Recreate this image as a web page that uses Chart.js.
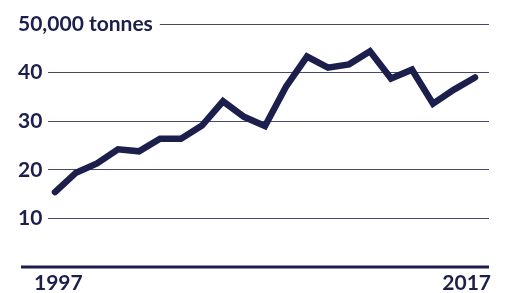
<!DOCTYPE html>
<html>
<head>
<meta charset="utf-8">
<script src="https://cdn.jsdelivr.net/npm/chart.js@4"></script>
<style>
  html, body { margin: 0; padding: 0; background: #fff; }
  #wrap { width: 505px; height: 293px; }
</style>
</head>
<body>
<div id="wrap"><canvas id="chart"></canvas></div>
<script>
// data
const years = [1997, 1998, 1999, 2000, 2001, 2002, 2003, 2004, 2005, 2006, 2007,
               2008, 2009, 2010, 2011, 2012, 2013, 2014, 2015, 2016, 2017];
const tonnes = [15.4, 19.4, 21.3, 24.2, 23.8, 26.4, 26.4, 29.1, 34.1, 30.9, 29.0,
                37.1, 43.3, 41.0, 41.7, 44.4, 38.8, 40.6, 33.6, 36.5, 39.0];
const yTicks = [0, 10, 20, 30, 40, 50];
const yTickLabels = ['', '10', '20', '30', '40', '50,000 tonnes'];
const yearLabels = ['1997', '2017'];

const navy = '#1c1e4b';
const gridCol = '#45486f';
const font = { family: 'Lato', size: 21, weight: 'bold' };

const extras = {
    id: 'extras',
    afterDraw(chart) {
        const ctx = chart.ctx;
        const area = chart.chartArea;
        const ys = chart.scales.y;
        ctx.save();
        ctx.font = 'bold 21px Lato';
        ctx.fillStyle = navy;
        // top tick label is wider than the axis, so it is drawn here
        const topLabel = yTickLabels[yTicks.length - 1];
        const w = ctx.measureText(topLabel).width;
        const yTop = ys.getPixelForValue(yTicks[yTicks.length - 1]);
        ctx.textAlign = 'left';
        ctx.textBaseline = 'middle';
        ctx.fillText(topLabel, ys.left, yTop);
        ctx.strokeStyle = gridCol;
        ctx.lineWidth = 1;
        ctx.beginPath();
        ctx.moveTo(ys.left + w + 7, Math.round(yTop) + 0.5);
        ctx.lineTo(area.right, Math.round(yTop) + 0.5);
        ctx.stroke();
        // baseline
        const y0 = ys.getPixelForValue(0);
        ctx.strokeStyle = navy;
        ctx.lineWidth = 3;
        ctx.beginPath();
        ctx.moveTo(ys.left + 3, y0);
        ctx.lineTo(area.right, y0);
        ctx.stroke();
        // first and last year
        ctx.textBaseline = 'alphabetic';
        ctx.textAlign = 'left';
        ctx.fillText(yearLabels[0], ys.left + 16, 290);
        ctx.textAlign = 'right';
        ctx.fillText(yearLabels[1], area.right + 2, 290);
        ctx.restore();
    }
};

new Chart(document.getElementById('chart'), {
    type: 'line',
    data: {
        datasets: [{
            data: years.map((yr, i) => ({ x: yr, y: tonnes[i] })),
            borderColor: navy,
            borderWidth: 6.5,
            borderJoinStyle: 'miter',
            borderCapStyle: 'round',
            pointRadius: 0,
            tension: 0
        }]
    },
    options: {
        responsive: true,
        maintainAspectRatio: false,
        animation: false,
        layout: { padding: { left: 18, right: 16, top: 24, bottom: 26 } },
        plugins: { legend: { display: false }, tooltip: { enabled: false } },
        scales: {
            x: {
                type: 'linear',
                display: false,
                min: 1997 - 7 / 21,
                max: 2017 + 14 / 21
            },
            y: {
                min: 0,
                max: 50,
                afterBuildTicks: (s) => { s.ticks = yTicks.map(v => ({ value: v })); },
                afterFit: (s) => { s.width = 30; },
                border: { display: false },
                grid: {
                    drawTicks: false,
                    lineWidth: 1,
                    color: (c) => (c.tick && (c.tick.value === 0 || c.tick.value === 50)) ? 'rgba(0,0,0,0)' : gridCol
                },
                ticks: {
                    crossAlign: 'far',
                    padding: 0,
                    color: navy,
                    font: font,
                    callback: (v) => (v === 50 ? '' : yTickLabels[yTicks.indexOf(v)])
                }
            }
        }
    },
    plugins: [extras]
});
</script>
</body>
</html>
